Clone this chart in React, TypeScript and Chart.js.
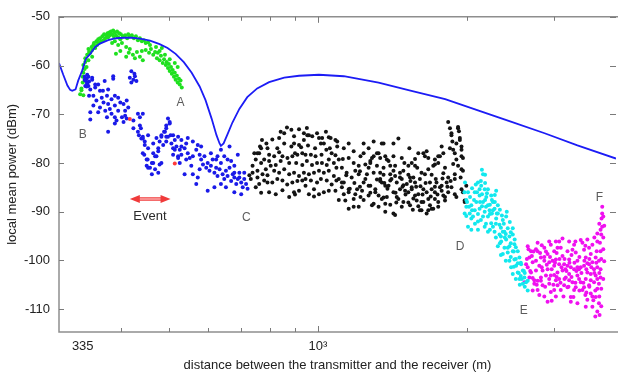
import { useEffect, useRef } from 'react';
import { Chart, registerables } from 'chart.js';

Chart.register(...registerables);

const FONT = 'Liberation Sans, Arial, Helvetica, sans-serif';

// axis ranges and ticks
const xMin = 300;
const xMax = 4000;
const yMin = -114.7;
const yMax = -50;
const xTickValues = [335, 400, 500, 600, 700, 800, 900, 1000, 2000, 3000];
const yTickValues = [-50, -60, -70, -80, -90, -100, -110];

// two-ray model curve (distance m, power dBm)
const curveD = [300, 306, 312, 316, 319, 324, 328, 334, 340, 347, 355, 363, 377, 391, 406, 421, 437, 458, 479, 497, 516, 536, 556, 577, 593, 610, 624, 633, 637, 645, 657, 672, 694, 720, 754, 797, 855, 916, 1005, 1128, 1326, 1545, 1807, 2105, 2453, 2870, 3343, 4000];
const curveP = [-59.5, -61.9, -64.1, -65.0, -65.2, -64.9, -63.1, -61.1, -58.6, -57.6, -56.2, -55.5, -54.8, -54.4, -54.3, -54.3, -54.5, -54.9, -55.6, -56.4, -57.6, -59.3, -61.5, -64.3, -67.1, -70.9, -74.3, -76.0, -76.5, -76.0, -74.1, -71.7, -68.9, -66.5, -64.7, -63.4, -62.5, -62.1, -61.9, -62.2, -63.5, -65.2, -66.9, -69.2, -71.5, -73.9, -76.4, -79.1];

const greenPts = [
  [331,-65.9],[333,-64.7],[335,-63.5],[335,-62.3],[336,-61.5],[338,-60.7],[336,-59.9],[339,-59.3],[341,-60.3],[339,-58.5],[342,-57.8],[344,-58.9],[345,-57.2],[344,-56.6],[347,-57.4],[349,-56.2],[350,-56.8],[352,-55.8],[350,-58.2],[353,-55.4],[355,-56.4],[357,-55.0],[358,-55.8],[360,-54.6],[361,-55.4],[363,-54.4],[365,-55.0],[367,-54.0],[369,-54.8],[370,-53.6],[372,-54.4],[374,-53.8],[376,-53.4],[377,-54.2],[379,-53.2],[380,-53.8],[382,-53.0],[384,-53.6],[386,-52.8],[387,-54.0],[389,-53.2],[391,-53.8],[393,-53.0],[395,-54.2],[397,-53.4],[399,-54.6],[400,-53.6],[404,-54.0],[408,-53.8],[412,-54.4],[414,-53.6],[417,-54.0],[421,-53.8],[425,-54.4],[429,-54.0],[433,-54.8],[437,-54.4],[441,-55.0],[445,-54.8],[449,-55.4],[454,-55.2],[458,-55.8],
  [384,-55.4],[389,-55.0],[395,-55.8],[402,-55.4],[410,-56.2],[417,-56.6],[415,-57.4],[423,-57.8],[431,-57.2],[427,-58.5],[437,-58.2],[443,-58.9],[441,-57.0],[410,-58.2],[399,-57.0],[391,-57.6],
  [449,-56.8],[456,-57.4],[460,-56.6],[465,-57.8],[469,-57.2],[473,-58.5],[475,-57.4],[479,-58.9],[482,-58.0],[486,-59.5],[489,-58.7],[493,-59.9],[495,-59.3],[498,-60.5],[500,-59.7],[502,-61.1],[505,-60.3],[507,-61.7],[509,-60.9],[512,-62.3],[514,-61.5],[516,-62.9],[519,-62.1],[521,-63.5],[524,-62.7],[526,-63.9],[528,-63.1],[531,-64.5],[479,-57.0],[491,-57.8],[502,-58.7],[514,-59.5],[521,-60.3],[471,-56.2],[484,-56.4],
  [336,-66.1],[333,-65.1]
];

const bluePts = [
  [338,-62.9],[342,-63.5],[344,-64.2],[339,-64.2],[347,-64.9],[350,-62.9],[355,-64.5],[360,-63.9],[363,-65.2],[371,-63.2],[377,-64.9],[386,-62.7],[352,-66.2],[345,-66.2],[366,-66.6],[375,-66.2],[383,-66.9],[389,-66.2],[395,-66.6],[357,-67.2],[369,-67.6],[377,-67.9],[363,-68.6],[352,-68.2],[347,-69.6],[360,-69.6],[372,-69.3],[380,-68.9],[389,-68.2],[399,-67.6],[405,-67.9],[411,-67.2],[414,-68.6],[408,-69.3],[395,-69.3],[383,-69.9],[375,-70.6],[389,-70.6],[402,-70.6],[408,-70.3],[411,-70.9],[405,-71.6],[389,-71.9],[377,-73.6],[392,-71.3],[424,-71.3],[433,-69.9],[443,-69.9],[424,-72.9],[437,-72.3],[433,-73.6],[440,-75.0],[447,-75.6],[443,-74.6],[454,-74.3],[465,-76.0],[472,-74.9],[483,-74.3],[491,-73.6],[494,-72.3],[502,-71.6],[498,-74.6],[494,-75.6],[506,-76.0],[510,-74.3],[476,-77.6],[469,-78.6],[462,-80.0],[454,-81.0],[469,-81.3],[451,-79.3],[443,-78.0],[483,-80.0],[514,-77.3],[522,-78.6],[530,-76.6],
  [420,-61.2],[426,-61.7],[417,-62.5],[424,-62.9],[430,-63.2],[427,-62.2],[420,-63.5],
  [350,-62.5],[355,-63.9],[386,-62.2],[368,-65.2],[347,-71.1],[344,-62.3],[341,-62.7],[342,-61.9],[338,-62.3],[339,-63.1],[342,-63.7],[341,-64.3],[345,-63.3],
  [437,-70.6],[439,-72.9],[435,-74.3],[443,-75.0],[447,-76.3],[446,-78.3],[453,-79.3],[451,-80.6],[458,-81.0],[462,-82.3],[465,-80.0],[472,-78.6],[476,-77.0],[479,-75.6],[483,-74.6],[489,-73.6],[494,-72.9],[498,-70.9],[502,-71.9],[504,-74.3],[494,-74.6],[487,-76.3],[479,-80.3],[476,-82.0],[465,-78.0],[454,-77.0],
  [510,-77.0],[518,-76.6],[526,-77.3],[530,-78.3],[538,-77.0],[546,-78.0],[542,-79.3],[551,-79.0],[559,-78.6],[568,-77.3],[572,-76.3],[577,-78.3],[581,-79.3],[586,-80.3],[590,-78.6],[595,-81.0],[599,-80.0],[604,-81.6],[608,-80.6],[613,-79.3],[618,-82.0],[623,-81.0],[627,-82.7],[633,-81.3],[637,-80.0],[642,-82.3],[647,-83.3],[652,-81.6],[657,-82.7],[663,-81.0],[668,-83.7],[673,-82.3],[678,-83.0],[684,-84.3],[689,-83.3],[694,-82.0],[700,-84.0],[705,-85.0],[710,-83.3],[716,-84.3],[721,-85.3],[689,-78.3],[678,-80.6],[663,-76.6],[608,-78.0],[581,-76.6],[559,-75.6],[546,-74.9],[542,-76.0],[530,-75.3],[522,-79.0],[538,-82.3],[559,-82.3],[572,-83.0],[568,-84.3],[618,-85.0],[599,-85.7],[652,-85.0],[678,-86.0],[700,-86.4],[522,-74.6],[514,-75.3],[510,-78.3],[526,-80.0],[555,-80.6],[577,-81.3],[637,-84.3],[627,-78.6],[647,-78.6],[623,-79.3],[657,-79.3],[668,-79.6],[678,-82.0],[694,-83.0],[710,-82.0],[637,-77.3]
];

const redPts = [[417,-71.0],[514,-80.1]];

const blackPts = [
  [866,-72.7],[771,-75.3],[809,-75.2],[835,-74.9],[895,-74.5],[916,-76.3],[937,-75.3],[959,-74.3],[974,-74.5],[1020,-74.9],[1052,-74.7],[1085,-75.3],[1094,-76.6],[761,-78.0],[791,-77.0],[797,-78.3],[816,-78.6],[835,-77.8],[848,-78.6],[868,-79.0],[888,-78.6],[909,-78.3],[930,-78.0],[944,-78.3],[968,-78.3],[989,-78.6],[1017,-78.3],[1040,-77.3],[1052,-79.3],[1077,-80.0],[1102,-79.3],
  [738,-80.6],[755,-81.6],[773,-82.3],[785,-81.3],[803,-80.6],[816,-81.6],[835,-82.0],[855,-81.3],[875,-82.3],[895,-82.0],[916,-82.7],[937,-82.0],[959,-82.3],[982,-82.0],[1005,-81.6],[1028,-82.0],[1052,-81.6],[1077,-82.7],[1102,-83.3],[1128,-84.0],[732,-83.3],[761,-84.3],[791,-84.0],[822,-86.4],[875,-87.0],[895,-86.0],[916,-85.7],[944,-84.7],[982,-85.4],[1005,-86.4],[1028,-86.0],[1052,-85.7],[1085,-85.7],[1118,-85.0],[1154,-86.0],[1181,-87.4],[1154,-89.4],[1181,-89.0],[1136,-87.7],[749,-85.0],[738,-82.0],[779,-79.3],[749,-79.3],[764,-76.6],
  [952,-74.3],[1005,-74.9],[1061,-74.9],[1094,-75.6],[1296,-75.6],[1346,-76.0],[1266,-77.0],[1316,-78.0],[1286,-79.0],[1336,-79.0],[1368,-78.6],[1389,-79.6],[1477,-79.0],[1432,-80.6],[1633,-78.0],[1671,-79.0],[1723,-80.3],[1750,-78.6],[1778,-76.6],[1833,-71.6],[1848,-72.9],[1919,-72.6],[1861,-74.3],[1935,-74.9],[1950,-76.6],[1848,-77.0],[1890,-78.0],[1950,-78.6],[1919,-80.6],[1950,-81.3],[1890,-82.3],[1833,-83.0],[1994,-84.7],[1963,-86.0],[1979,-87.7],
  [1118,-84.0],[1154,-85.4],[1190,-86.4],[1228,-85.7],[1266,-84.7],[1306,-86.0],[1346,-87.4],[1368,-88.4],[1286,-88.7],[1421,-90.4],[1454,-87.4],[1500,-85.7],[1547,-85.0],[1571,-86.7],[1619,-88.0],[1671,-87.4],[1697,-89.4],[1619,-89.7],[1723,-86.0],[1778,-84.7],[1750,-88.0],[1477,-83.3],[1535,-83.0],[1432,-82.7],[1368,-84.7],[1336,-83.7],
  [1357,-76.0],[1276,-79.6],[1316,-80.6],[1378,-79.3],[1523,-80.6],[1571,-80.6],[1645,-82.3],[1710,-80.6],[1750,-80.0],[1764,-78.6],[1861,-73.9],[1919,-72.9],[1935,-75.3],[1876,-77.3],[1950,-77.3],[1904,-79.3],[1963,-81.6],[1890,-83.3],[1950,-85.4],[1890,-86.4],[1979,-88.0],
  [1209,-82.3],[1237,-84.0],[1200,-85.4],[1219,-87.0],[1266,-86.7],[1306,-85.4],[1346,-84.0],[1389,-84.7],[1421,-86.0],[1465,-85.4],[1512,-84.3],[1547,-85.4],[1595,-86.4],[1633,-88.0],[1684,-88.7],[1723,-87.4],[1792,-86.7],[1820,-84.0],[1368,-90.0],[1432,-90.7],[1607,-89.7],[1671,-89.7],[1296,-88.4],[1488,-88.0],[1764,-85.0],[1833,-86.0],[1607,-83.3],[1559,-83.0],[1465,-83.0],[1400,-82.3],[1336,-82.0],[1256,-82.3],[1684,-84.0],[1633,-85.4],[1583,-87.7],[1535,-88.7],[1710,-89.4],[1443,-87.0],[1378,-87.0],[1326,-86.7],[1276,-84.7],[1296,-78.6],[1326,-78.0],[1421,-78.6],[1547,-80.0],[1645,-78.6],[1723,-79.3],[1671,-81.3],[1619,-82.0],[1488,-81.6],[1357,-81.0],[1247,-80.3],[1219,-78.6],[1209,-80.6],
  [744,-78.0],[768,-80.0],[797,-79.6],[828,-77.0],[855,-76.0],[884,-76.6],[904,-80.0],[930,-80.4],[950,-79.6],[973,-80.4],[996,-80.0],[1019,-80.0],[1042,-80.4],[1066,-78.0],[1090,-81.0],[1118,-81.0],[1143,-82.0],[1170,-83.0],[755,-83.0],[779,-83.6],[809,-84.0],[848,-83.6],[867,-84.4],[888,-84.0],[930,-83.6],[968,-83.6],[996,-84.0],[1042,-83.6],[1066,-84.4],[1090,-83.6],[797,-86.0],[848,-85.6],[959,-86.4],[1128,-86.4],[1102,-87.6],[855,-73.9],[916,-73.1],[937,-73.9],[996,-73.9],[1028,-76.0],[1128,-77.0],[1154,-79.0],[1181,-80.0],[1190,-81.6],[787,-76.0],[895,-76.0],[1154,-76.0],[1181,-77.6],[1237,-78.0],[1266,-81.0],[1296,-82.0],[1316,-83.4],[1400,-83.6],[1443,-84.0],[1488,-84.6],[1523,-86.0],[1571,-84.0],[1611,-84.8],[1658,-86.0],[1697,-85.4],[1736,-84.0],[1785,-83.2],[1806,-81.0],[1806,-87.0],[1750,-89.0],[1658,-90.4],[1555,-89.6],[1477,-89.0],[1400,-88.6],[1237,-87.6],[1209,-89.0],[1326,-89.0],[1465,-82.0],[1523,-82.4],[1421,-81.6],[1357,-82.4],[1587,-81.0],[1697,-82.4],[1595,-78.0],[1530,-77.0],[1454,-75.0],[1421,-76.0],[1237,-76.0],[1876,-80.2],[1861,-85.0],[1904,-87.0],[1942,-83.0],[1963,-79.0],[1904,-76.0],[1869,-75.6],[1927,-73.5],
  [1336,-83.3],[1362,-84.1],[1382,-85.3],[1408,-83.3],[1435,-86.1],[1482,-84.9],[1503,-86.5],[1538,-83.7],[1559,-87.3],[1579,-84.9],[1627,-86.5],[1650,-84.1],[1690,-86.9],[1723,-84.9],[1744,-86.5],[1778,-85.7],[1806,-87.7],[1826,-84.9],[1854,-83.7],[1523,-88.1],[1595,-88.9],[1440,-88.1],[1357,-87.1],[1276,-86.1],[1247,-83.3],[1216,-84.9],[1185,-84.1],[1160,-85.3],[1141,-82.5],[1216,-81.7],[1276,-80.0],[1400,-80.6],[1495,-80.0],[1571,-79.2],[1658,-77.6],[1792,-78.0],[1792,-82.1],[1730,-83.3],
  [755,-78.0],[768,-77.0],[822,-80.4],[841,-79.6],[875,-80.0],[899,-78.0],[925,-76.8],[955,-76.4],[987,-77.0],[1014,-76.0],[1057,-77.0],[1085,-78.4],[1123,-79.2],[791,-82.5],[828,-83.3],[909,-83.7],[944,-83.3],[1014,-83.3],[982,-86.9],[899,-86.5],[768,-86.1],[727,-82.5],[841,-73.6],[884,-73.2],[950,-72.8],[1038,-73.6]
];

const cyanPts = [
  [2155,-82.3],[2105,-84.0],[2137,-84.7],[2172,-85.4],[2074,-86.0],[2121,-86.7],[2188,-87.0],[2239,-86.7],[2291,-85.7],[2257,-88.0],[2205,-88.7],[2155,-88.0],[2089,-88.0],[2041,-88.7],[1994,-89.0],[1979,-90.4],[2026,-90.4],[2074,-89.7],[2121,-89.4],[2172,-90.0],[2222,-89.7],[2274,-89.4],[2309,-88.7],[2041,-91.4],[2010,-93.1],[2041,-93.7],[2105,-92.0],[2205,-91.0],[2239,-92.4],[2291,-91.4],[2327,-92.7],[2363,-91.7],[2400,-91.0],[2205,-94.1],[2274,-94.1],[2327,-94.7],[2381,-94.1],[2418,-93.4],[2345,-96.1],[2400,-95.7],[2437,-95.1],[2475,-94.7],[2309,-97.1],[2381,-97.4],[2437,-97.1],[2494,-96.7],[2363,-98.7],[2418,-98.4],[2475,-98.1],[2533,-98.1],[2437,-100.1],[2494,-99.8],[2553,-99.4],[2456,-101.4],[2514,-101.1],[2573,-100.8],[2475,-102.8],[2533,-102.5],[2593,-102.1],[2553,-103.8],[2613,-103.5],[2593,-104.8],[2633,-104.5],[2105,-93.7],[2172,-93.1],[2309,-90.4],[2121,-85.4],[2205,-85.4],[2257,-89.7],[2363,-94.1],[2475,-93.4],
  [2010,-86.0],[2048,-85.2],[2084,-84.4],[2029,-87.0],[2134,-83.7],[2176,-84.1],[2246,-87.6],[2277,-86.6],[2185,-89.0],[2057,-91.0],[2155,-91.0],[2257,-93.1],[2342,-95.1],[2497,-95.7],[2144,-81.4],[2176,-82.4],[1994,-87.6],[1977,-86.0],
  [1982,-84.0],[2001,-88.0],[2019,-89.0],[2067,-87.6],[2096,-86.0],[2125,-88.0],[2145,-86.4],[2176,-87.6],[2195,-86.2],[2225,-88.6],[2246,-90.4],[2277,-88.0],[2298,-90.4],[2331,-89.6],[2353,-90.8],[2374,-92.5],[2407,-90.0],[2441,-92.1],[2076,-92.5],[2134,-91.7],[2185,-92.5],[2225,-93.7],[2288,-95.3],[2331,-96.5],[2385,-95.3],[2452,-96.5],[2510,-97.3],[2342,-98.9],[2396,-100.1],[2452,-99.3],[2510,-99.7],[2569,-100.5],[2487,-101.3],[2545,-102.6],[2606,-102.2],[2510,-103.8],[2569,-103.2],[2617,-105.4],[2557,-105.0],[2653,-104.2],[2617,-102.6],[2653,-106.2],
  [1994,-90.9],[2048,-89.7],[2105,-90.5],[2145,-88.9],[2225,-90.5],[2288,-92.5],[2342,-93.3],[2396,-94.6],[2452,-94.2],[2418,-97.4],[2487,-98.2],[2533,-100.6],[2581,-103.8]
];

const magentaPts = [
  [2653,-97.1],[2694,-98.1],[2674,-99.4],[2715,-100.4],[2653,-101.4],[2694,-102.5],[2674,-103.5],[2736,-104.1],[2778,-98.1],[2821,-99.4],[2800,-101.1],[2843,-102.1],[2821,-103.5],[2778,-106.1],[2866,-97.4],[2910,-98.7],[2933,-100.4],[2910,-101.8],[2954,-103.1],[2933,-104.8],[3001,-98.1],[3024,-99.8],[3001,-101.1],[3047,-102.5],[3024,-104.1],[3071,-96.1],[3094,-97.4],[3119,-99.1],[3143,-100.8],[3119,-102.1],[3167,-103.5],[3143,-105.1],[3192,-98.1],[3217,-99.8],[3242,-101.4],[3217,-102.8],[3267,-104.5],[3292,-106.1],[3242,-107.5],[3292,-96.8],[3317,-98.4],[3343,-100.1],[3369,-101.8],[3343,-103.1],[3395,-104.5],[3422,-106.1],[3395,-95.8],[3448,-97.8],[3475,-99.4],[3448,-101.1],[3501,-102.5],[3475,-103.8],[3529,-105.1],[3557,-106.8],[3501,-108.1],[3584,-109.5],[3557,-98.7],[3584,-100.4],[3612,-101.8],[3639,-103.1],[3612,-104.5],[3667,-105.8],[3639,-107.5],[3695,-108.8],[3667,-110.5],[3706,-111.2],[3695,-100.1],[3723,-98.1],[3712,-96.4],[3734,-94.7],[3751,-93.1],[3740,-91.4],[3751,-90.4],[3723,-93.7],[3667,-96.1],[3656,-98.1],[3723,-101.8],[3723,-103.5],[3695,-104.8],[3047,-105.1],[2954,-106.5],[3001,-106.1],[2800,-107.1],[2910,-108.5],[3343,-108.8],[3475,-109.5],[3242,-108.5],[2843,-105.1],[2736,-104.8],[2613,-104.5],[2633,-100.8],[2778,-96.4],[2954,-96.8],[3024,-96.1],[3217,-96.1],[3422,-96.4],[3529,-97.4],[3584,-96.8],[3639,-99.4],[3529,-100.8],[3395,-101.4],[3292,-101.8],[3192,-101.1],[3071,-100.8],[2978,-100.1],[2866,-100.1],[2757,-100.1],[2757,-102.1],[2888,-103.1],[3071,-103.8],[3217,-104.1],[3369,-103.8],[3557,-104.1],[3448,-105.5],[3317,-105.5],[3192,-105.5],[3094,-106.1],[3557,-102.8],
  [2705,-99.1],[2757,-97.7],[2810,-98.5],[2866,-99.3],[2899,-100.9],[2943,-99.3],[2966,-101.8],[3012,-100.5],[3035,-98.5],[3076,-99.7],[3105,-101.4],[3148,-99.7],[3177,-102.2],[3222,-100.5],[3252,-98.9],[3297,-100.5],[3327,-102.2],[3374,-99.3],[3406,-102.6],[3453,-100.1],[3485,-101.8],[3534,-99.7],[3567,-101.4],[3617,-102.6],[3650,-100.5],[3701,-102.6],[3735,-99.7],[3770,-97.7],[3770,-95.3],[3787,-92.9],[3770,-91.0],[3752,-89.0],[3701,-92.5],[3667,-94.5],[3617,-95.3],[2684,-102.2],[2715,-103.6],[2767,-105.0],[2821,-104.2],[2877,-105.4],[2932,-103.8],[2989,-105.0],[3035,-103.4],[3090,-104.6],[3148,-103.8],[3207,-105.4],[3252,-103.4],[3312,-104.6],[3374,-106.2],[3437,-104.6],[3485,-106.6],[3534,-105.4],[3584,-107.4],[3633,-106.2],[3701,-107.4],[3735,-105.8],[3735,-109.4],[3633,-111.5],[3600,-108.2],[3133,-107.4],[3024,-107.4],[2866,-107.4],[2715,-106.2],[2832,-96.9],[2932,-96.1],[3119,-95.5],[3312,-96.1],[3501,-95.7],[2663,-97.7],[2643,-99.7],
  [2726,-98.2],[2888,-98.2],[3047,-97.4],[3267,-97.8],[3469,-97.0],[2832,-101.4],[3001,-103.0],[3162,-101.8],[3343,-101.4],[3501,-100.6],[3667,-101.4],[3667,-103.8],[3469,-107.1],[3282,-107.5],[2966,-108.3],[2778,-104.2],[3770,-103.8],[3787,-100.2]
];

// text marks placed in data coordinates
const markTexts = ['A', 'B', 'C', 'D', 'E', 'F'];
const markD = [528, 335, 717, 1937, 2604, 3701];
const markP = [-67.6, -74.1, -91.2, -97.1, -110.3, -87.2];
const eventText = 'Event';
const eventFrom = 417;
const eventTo = 504;
const eventLevel = -87.4;
const eventTextP = -91.0;
const eventTextD = 458;

const toXY = (pts: number[][]) => pts.map(([x, y]) => ({ x, y }));

const overlayPlugin = {
  id: 'overlay',
  afterDatasetsDraw(chart: any) {
    const { ctx, chartArea, scales } = chart;
    const { left, right, top, bottom } = chartArea;
    const xs = scales.x;
    const ys = scales.y;
    ctx.save();
    // box frame (right side lies at the canvas edge)
    ctx.strokeStyle = '#8e8e8e';
    ctx.lineWidth = 1.5;
    ctx.beginPath();
    ctx.moveTo(right + 2, top); ctx.lineTo(left, top); ctx.lineTo(left, bottom); ctx.lineTo(right + 2, bottom);
    ctx.stroke();
    // inward ticks
    ctx.lineWidth = 1;
    ctx.strokeStyle = '#7a7a7a';
    ctx.beginPath();
    xTickValues.forEach((v) => {
      if (v === 335) return;
      const px = Math.round(xs.getPixelForValue(v)) + 0.5;
      const len = v === 1000 ? 6 : 4;
      ctx.moveTo(px, bottom); ctx.lineTo(px, bottom - len);
      ctx.moveTo(px, top); ctx.lineTo(px, top + len);
    });
    yTickValues.forEach((v) => {
      const py = Math.round(ys.getPixelForValue(v)) + 0.5;
      ctx.moveTo(left, py); ctx.lineTo(left + 5, py);
      ctx.moveTo(right, py); ctx.lineTo(right - 6, py);
    });
    ctx.stroke();
    // letter marks
    ctx.font = `12px ${FONT}`;
    ctx.fillStyle = '#5c5c5c';
    ctx.textAlign = 'center';
    ctx.textBaseline = 'middle';
    markTexts.forEach((t, i) => {
      ctx.fillText(t, xs.getPixelForValue(markD[i]), ys.getPixelForValue(markP[i]));
    });
    // event arrow
    const ax1 = xs.getPixelForValue(eventFrom);
    const ax2 = xs.getPixelForValue(eventTo);
    const ay = ys.getPixelForValue(eventLevel);
    ctx.strokeStyle = '#f03a3a';
    ctx.lineWidth = 3.5;
    ctx.beginPath(); ctx.moveTo(ax1 + 8, ay); ctx.lineTo(ax2 - 8, ay); ctx.stroke();
    ctx.strokeStyle = '#ffc8c8';
    ctx.lineWidth = 1.2;
    ctx.beginPath(); ctx.moveTo(ax1 + 8, ay); ctx.lineTo(ax2 - 8, ay); ctx.stroke();
    ctx.fillStyle = '#f03a3a';
    ctx.beginPath(); ctx.moveTo(ax1, ay); ctx.lineTo(ax1 + 10, ay - 4); ctx.lineTo(ax1 + 10, ay + 4); ctx.closePath(); ctx.fill();
    ctx.beginPath(); ctx.moveTo(ax2, ay); ctx.lineTo(ax2 - 10, ay - 4); ctx.lineTo(ax2 - 10, ay + 4); ctx.closePath(); ctx.fill();
    ctx.font = `13px ${FONT}`;
    ctx.fillStyle = '#2a2a2a';
    ctx.fillText(eventText, xs.getPixelForValue(eventTextD), ys.getPixelForValue(eventTextP));
    ctx.restore();
  },
};

export default function App() {
  const ref = useRef<HTMLCanvasElement | null>(null);
  useEffect(() => {
    if (!ref.current) return;
    const pointDs = (data: number[][], color: string, order: number) => ({
      data: toXY(data),
      backgroundColor: color,
      borderColor: color,
      borderWidth: 0,
      pointRadius: 2,
      pointHoverRadius: 2,
      showLine: false,
      order,
    });
    const chart = new Chart(ref.current, {
      type: 'scatter',
      data: {
        datasets: [
          {
            data: curveD.map((d, i) => ({ x: d, y: curveP[i] })),
            showLine: true,
            borderColor: '#1c1cf5',
            backgroundColor: '#1c1cf5',
            borderWidth: 1.8,
            pointRadius: 0,
            tension: 0,
            order: 0,
          } as any,
          pointDs(greenPts, '#1fe01f', 5),
          pointDs(bluePts, '#1a1ae8', 4),
          pointDs(blackPts, '#141414', 3),
          pointDs(cyanPts, '#12e8ee', 2),
          pointDs(magentaPts, '#f010f0', 2),
          pointDs(redPts, '#ff3b3b', 1),
        ],
      },
      options: {
        animation: false,
        responsive: true,
        maintainAspectRatio: false,
        events: [],
        layout: { padding: { left: 5, top: 11, right: 0, bottom: 1 } },
        plugins: { legend: { display: false }, tooltip: { enabled: false } },
        scales: {
          x: {
            type: 'logarithmic',
            min: xMin,
            max: xMax,
            afterBuildTicks: (s: any) => { s.ticks = xTickValues.map((v) => ({ value: v })); },
            afterFit: (s: any) => { s.height = 41; },
            grid: { display: false, drawTicks: false },
            border: { display: false },
            ticks: {
              autoSkip: false,
              maxRotation: 0,
              padding: 7,
              color: '#222',
              font: { family: FONT, size: 13 },
              callback: (v: any) => (v === 335 ? '335' : v === 1000 ? '10³' : ''),
            },
            title: {
              display: true,
              text: 'distance between the transmitter and the receiver (m)',
              color: '#222',
              font: { family: FONT, size: 13 },
              padding: { top: 0, bottom: 0 },
            },
          },
          y: {
            type: 'linear',
            min: yMin,
            max: yMax,
            afterBuildTicks: (s: any) => { s.ticks = yTickValues.map((v) => ({ value: v })); },
            afterFit: (s: any) => { s.width = 54; },
            grid: { display: false, drawTicks: false },
            border: { display: false },
            ticks: {
              padding: 9,
              color: '#222',
              font: { family: FONT, size: 13 },
              callback: (v: any) => String(v),
            },
            title: {
              display: true,
              text: 'local mean power (dBm)',
              color: '#222',
              font: { family: FONT, size: 13 },
              padding: { top: 0, bottom: 0 },
            },
          },
        },
      } as any,
      plugins: [overlayPlugin],
    });
    return () => chart.destroy();
  }, []);
  return (
    <div style={{ position: 'fixed', left: 0, top: 0, width: 618, height: 374, background: '#fff' }}>
      <canvas ref={ref} />
    </div>
  );
}
